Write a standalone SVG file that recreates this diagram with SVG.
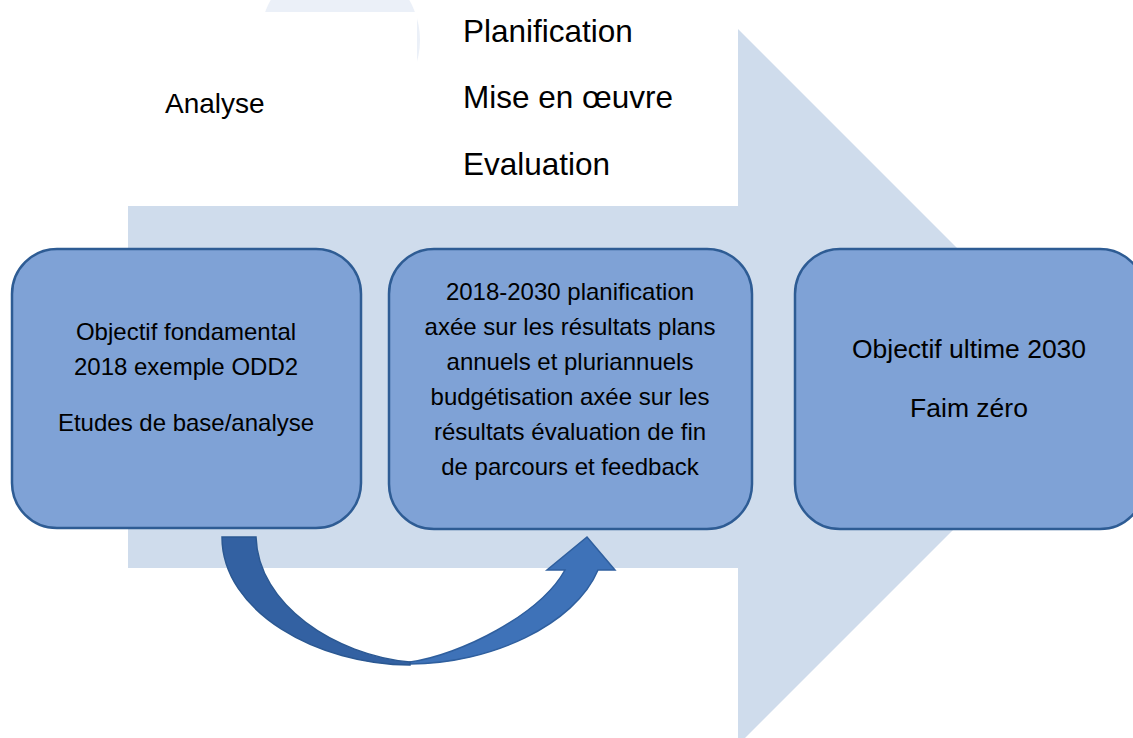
<svg xmlns="http://www.w3.org/2000/svg" width="1133" height="738" viewBox="0 0 1133 738">
  <style>
    .bg { fill: #cfdcec; }
    .box { fill: #7fa2d6; stroke: #2e5c94; stroke-width: 2.5; }
    .t { font-family: "Liberation Sans", Arial, sans-serif; fill: #000; }
    .bt { font-size: 24px; text-anchor: middle; }
    .bt3 { font-size: 26.5px; text-anchor: middle; }
    .top { font-size: 31.5px; }
    .ana { font-size: 28px; }
    .arrL { fill: #3361a2; stroke: #2b5892; stroke-width: 1.5; }
    .arrR { fill: #3e72b8; stroke: #2f5f9e; stroke-width: 1.5; }
  </style>
  <rect x="0" y="0" width="1133" height="738" fill="#ffffff"/>

  <g id="cycle-ring">
    <circle cx="340" cy="40" r="80" fill="#ebf0f8"/>
    <rect x="125" y="12" width="292" height="190" fill="#ffffff"/>
  </g>

  <g id="big-arrow">
    <polygon class="bg" points="128,206 738,206 738,29 1096,387 738,745 738,568 128,568"/>
  </g>

  <g id="label-analyse">
    <text class="t ana" x="165" y="113">Analyse</text>
  </g>

  <g id="label-phases">
    <text class="t top" x="463" y="42">Planification</text>
    <text class="t top" x="463" y="108">Mise en œuvre</text>
    <text class="t top" x="463" y="175">Evaluation</text>
  </g>

  <g id="box1">
    <rect class="box" x="12" y="249" width="349" height="279" rx="45" ry="45"/>
    <text class="t bt" x="186" y="340">Objectif fondamental</text>
    <text class="t bt" x="186" y="375">2018 exemple ODD2</text>
    <text class="t bt" x="186" y="431">Etudes de base/analyse</text>
  </g>

  <g id="box2">
    <rect class="box" x="389" y="249" width="363" height="280" rx="45" ry="45"/>
    <text class="t bt" x="570" y="300">2018-2030 planification</text>
    <text class="t bt" x="570" y="335">axée sur les résultats plans</text>
    <text class="t bt" x="570" y="370">annuels et pluriannuels</text>
    <text class="t bt" x="570" y="405">budgétisation axée sur les</text>
    <text class="t bt" x="570" y="440">résultats évaluation de fin</text>
    <text class="t bt" x="570" y="475">de parcours et feedback</text>
  </g>

  <g id="box3">
    <rect class="box" x="795" y="249" width="350" height="280" rx="45" ry="45"/>
    <text class="t bt3" x="969" y="358">Objectif ultime 2030</text>
    <text class="t bt3" x="969" y="417">Faim zéro</text>
  </g>

  <g id="connectors">
    <path class="arrR" d="M410,664 C490,664 575,625 598,570 L615,570 L587,537 L547,570 L565,570 C540,615 460,655 410,662 Z"/>
    <path class="arrL" d="M222,537 L256,537 C258,605 335,655 410,662 L410,665 C318,665 222,612 222,537 Z"/>
  </g>
</svg>
